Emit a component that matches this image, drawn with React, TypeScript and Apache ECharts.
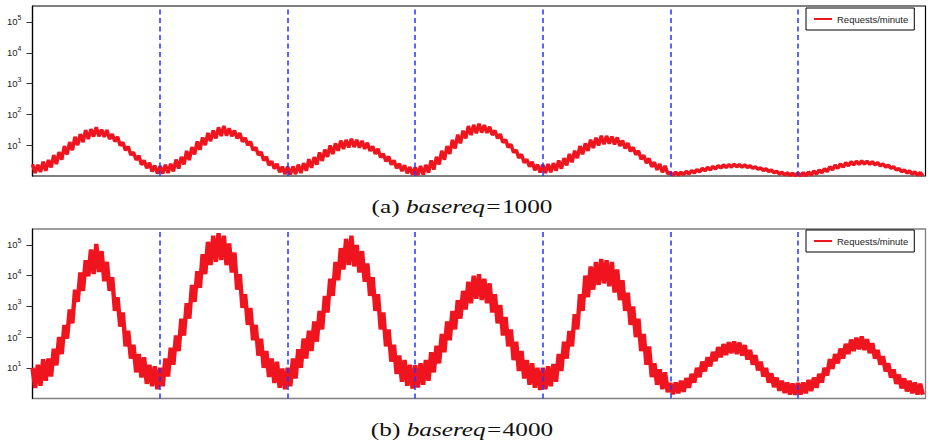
import React, { useEffect, useRef } from "react";
import * as echarts from "echarts";

// x axis: days (0..7); one high and one low reading per hour (low read half an hour later)
const dayMarks = [1, 2, 3, 4, 5, 6];
const tickValues = [10, 100, 1000, 10000, 100000];
const seriesName = "Requests/minute";

// (a) basereq=1000
const reqAHigh = [
  2.4, 2.3, 2.9, 3.3, 4.8, 6.0, 9.3, 12.6, 18.6, 23, 31, 33, 38, 32, 31, 23, 18.6, 12.3, 9.1, 5.9, 4.6, 3.2, 2.7, 2.2,
  2.1, 2.3, 2.5, 3.4, 4.2, 6.5, 8.7, 13.2, 17.8, 25, 30, 38, 42, 35, 30, 25, 17.4, 13.2, 8.5, 6.0, 4.2, 3.0, 2.5, 2.0,
  2.0, 2.04, 2.34, 2.6, 3.5, 4.1, 5.8, 7.2, 9.8, 11.5, 14.1, 14.8, 16.2, 14.8, 13.8, 12, 9.1, 7.6, 5.2, 4.3, 3.2, 2.5, 2.24, 1.95,
  1.9, 2.1, 2.3, 3.2, 4.2, 6.6, 9.3, 14.8, 21.9, 29.5, 41.7, 45.7, 50, 44.7, 39.8, 30, 22.9, 15.1, 10.7, 6.9, 5.0, 3.5, 2.9, 2.34,
  2.3, 2.45, 2.6, 3.2, 3.8, 5.2, 6.6, 9.3, 11.5, 15.1, 17.4, 20.4, 20, 19, 17.8, 14.1, 11.7, 8.5, 6.6, 4.7, 3.7, 2.8, 2.45, 2.14,
  1.29, 1.32, 1.32, 1.41, 1.51, 1.62, 1.78, 1.9, 2.04, 2.19, 2.29, 2.34, 2.4, 2.34, 2.29, 2.14, 2.0, 1.82, 1.7, 1.55, 1.41, 1.32, 1.26, 1.23,
  1.26, 1.29, 1.35, 1.45, 1.58, 1.74, 2.0, 2.24, 2.45, 2.7, 2.9, 3.0, 3.1, 3.0, 2.9, 2.7, 2.45, 2.24, 2.0, 1.74, 1.58, 1.45, 1.35, 1.29,
];
const reqALow = [
  1.26, 1.35, 1.48, 1.9, 2.45, 3.4, 5.0, 6.9, 10, 12.6, 15.8, 19, 19.5, 18.6, 15.8, 13.2, 9.8, 6.8, 4.8, 3.3, 2.3, 1.78, 1.41, 1.2,
  1.2, 1.26, 1.41, 1.74, 2.4, 3.3, 5.0, 7.1, 10, 13.5, 16.6, 20, 20.4, 19.5, 16.6, 12.9, 10, 6.9, 4.8, 3.2, 2.24, 1.74, 1.32, 1.15,
  1.12, 1.15, 1.26, 1.48, 1.86, 2.34, 3.1, 4.2, 5.2, 6.6, 7.6, 8.5, 8.7, 8.3, 7.6, 6.5, 5.2, 4.0, 3.0, 2.34, 1.78, 1.45, 1.23, 1.1,
  1.07, 1.12, 1.29, 1.62, 2.4, 3.4, 5.2, 7.9, 11.5, 16.6, 21.4, 24.5, 25.7, 25.1, 21.4, 16.6, 12.3, 8.5, 5.8, 3.9, 2.7, 2.0, 1.55, 1.32,
  1.26, 1.32, 1.48, 1.74, 2.2, 2.8, 3.8, 5.1, 6.5, 8.1, 9.8, 10.7, 11.2, 10.7, 9.5, 7.9, 6.3, 4.9, 3.5, 2.6, 2.0, 1.58, 1.32, 1.2,
  1.07, 1.07, 1.12, 1.17, 1.26, 1.35, 1.48, 1.58, 1.7, 1.82, 1.9, 1.95, 2.0, 1.95, 1.9, 1.78, 1.66, 1.51, 1.41, 1.29, 1.17, 1.1, 1.05, 1.02,
  1.0, 1.02, 1.07, 1.15, 1.26, 1.38, 1.58, 1.78, 1.95, 2.14, 2.29, 2.4, 2.45, 2.4, 2.29, 2.14, 1.95, 1.78, 1.58, 1.38, 1.26, 1.15, 1.07, 1.02,
];

// (b) basereq=4000
const reqBHigh = [
  10, 12.6, 19, 20, 42, 100, 250, 790, 3500, 12600, 32000, 71000, 107000, 63000, 28000, 8900, 2000, 630, 160, 56, 28, 22, 12.6, 11.2,
  10, 20, 45, 112, 400, 1260, 5000, 14000, 50000, 126000, 200000, 240000, 200000, 112000, 56000, 11200, 2500, 890, 250, 89, 35, 20, 15.8, 9.5,
  10, 20, 40, 89, 160, 320, 710, 2200, 7900, 28000, 79000, 158000, 200000, 100000, 63000, 25000, 8900, 2500, 630, 178, 56, 25, 17.8, 12.6,
  12, 14, 17.8, 32, 52, 126, 320, 710, 1600, 3200, 6300, 10000, 11200, 7900, 5600, 2500, 1120, 450, 178, 71, 35, 17.8, 14, 10,
  10, 11.2, 13.2, 28, 71, 158, 560, 2500, 10000, 20000, 28000, 35000, 32000, 28000, 15800, 7100, 2800, 1000, 400, 126, 50, 14, 8.9, 7.1,
  3.2, 3.3, 3.8, 4.6, 6.3, 10, 15.8, 22, 33, 47, 59, 68, 72, 66, 55, 38, 26, 15.8, 10, 6.6, 4.8, 3.8, 3.3, 3.1,
  3.2, 3.3, 4.0, 4.8, 6.3, 10, 19, 28, 42, 60, 83, 95, 105, 85, 63, 38, 24, 14, 8.9, 6.0, 4.5, 3.8, 3.3, 3.0,
];
const reqBLow = [
  2.2, 2.6, 3.8, 5.2, 12, 28, 89, 280, 1400, 3200, 9500, 11200, 13200, 6600, 3200, 710, 220, 50, 20, 7.1, 4.8, 3.0, 2.5, 2.0,
  2.5, 5.2, 12.6, 35, 112, 400, 1400, 4000, 11200, 22000, 28000, 32000, 22000, 12600, 3500, 890, 250, 79, 25, 10, 5.0, 3.2, 2.24, 2.0,
  2.5, 4.5, 10, 20, 35, 71, 178, 630, 2200, 7100, 15800, 22000, 20000, 12600, 6300, 2200, 710, 178, 50, 15.8, 6.3, 3.5, 2.6, 2.1,
  2.3, 2.8, 3.8, 7.1, 14, 32, 79, 178, 400, 790, 1260, 1780, 1600, 1260, 630, 280, 112, 50, 17.8, 7.9, 4.5, 2.8, 2.24, 1.9,
  2.0, 2.5, 3.5, 7.9, 20, 50, 178, 710, 2000, 3500, 5000, 5600, 4500, 2800, 1600, 710, 250, 100, 35, 12.6, 5.0, 2.8, 2.0, 1.6,
  1.38, 1.48, 1.66, 2.24, 3.3, 5.0, 7.6, 11.2, 16.6, 22, 26, 30, 28, 25, 18.6, 12.6, 8.3, 5.2, 3.3, 2.34, 1.78, 1.51, 1.35, 1.32,
  1.35, 1.48, 1.74, 2.24, 3.3, 5.6, 9.3, 14, 20, 28, 35, 40, 38, 30, 20, 12.6, 7.6, 4.8, 3.0, 2.14, 1.7, 1.48, 1.35, 1.32,
];

const captionA = ["(a) ", "basereq", "=", "1000"];
const captionB = ["(b) ", "basereq", "=", "4000"];

const RED = "#f0141e";
const BLUE = "#2233ff";
const SERIF = "'Liberation Serif', 'Times New Roman', serif";
const SANS = "'Liberation Sans', Arial, sans-serif";

function toPoints(high: number[], low: number[]) {
  const pts: [number, number][] = [];
  for (let i = 0; i < high.length; i++) {
    pts.push([i / 24, high[i]]);
    pts.push([i / 24 + 1 / 48, low[i]]);
  }
  return pts;
}

function yAxisFor(gridIndex: number) {
  return {
    type: "log",
    logBase: 10,
    gridIndex,
    min: 1,
    max: 330000,
    axisLine: { show: true, lineStyle: { color: "#000", width: 1.2 } },
    axisTick: {
      show: true,
      inside: false,
      length: 6,
      customValues: tickValues,
      lineStyle: { color: "#333", width: 1 },
    },
    axisLabel: {
      customValues: tickValues,
      margin: 11,
      formatter: (v: number) => `{a|10}{b|${Math.round(Math.log10(v))}}`,
      rich: {
        a: { fontSize: 9.5, fontFamily: SANS, color: "#222", lineHeight: 16 },
        b: { fontSize: 7, fontFamily: SANS, color: "#222", lineHeight: 7, verticalAlign: "top" },
      },
    },
    splitLine: { show: false },
  };
}

function xAxisFor(gridIndex: number) {
  return {
    type: "value",
    gridIndex,
    min: 0,
    max: 7,
    axisLine: { show: false },
    axisTick: { show: false },
    axisLabel: { show: false },
    splitLine: { show: false },
  };
}

function seriesFor(idx: number, data: [number, number][], width: number) {
  return {
    type: "line",
    name: seriesName,
    xAxisIndex: idx,
    yAxisIndex: idx,
    data,
    symbol: "none",
    showSymbol: false,
    lineStyle: { color: RED, width, join: "bevel" },
    itemStyle: { color: RED },
    markLine: {
      silent: true,
      symbol: ["none", "none"],
      label: { show: false },
      lineStyle: { color: BLUE, type: [5, 3.5], width: 1.5 },
      data: dayMarks.map((d) => ({ xAxis: d })),
    },
  };
}

function legendFor(top: number) {
  return {
    left: 806,
    top,
    orient: "horizontal",
    data: [{ name: seriesName, icon: "rect" }],
    itemWidth: 18,
    itemHeight: 2,
    itemGap: 8,
    padding: [6, 6, 6, 8],
    borderColor: "#000",
    borderWidth: 1,
    backgroundColor: "#fff",
    selectedMode: false,
    textStyle: { fontSize: 9.5, fontFamily: SANS, color: "#222" },
  };
}

function captionFor(parts: string[], y: number) {
  return {
    type: "text",
    x: 462,
    y,
    scaleX: 1.33,
    style: {
      text: `{n|${parts[0]}}{i|${parts[1]}}{e|${parts[2]}}{n|${parts[3]}}`,
      align: "center",
      verticalAlign: "middle",
      fill: "#111",
      font: `19px ${SERIF}`,
      rich: {
        n: { font: `19px ${SERIF}`, fill: "#111" },
        i: { font: `italic 19px ${SERIF}`, fill: "#111" },
        e: { font: `19px ${SERIF}`, fill: "#111", padding: [0, 1] },
      },
    },
  };
}

export default function App() {
  const ref = useRef<HTMLDivElement>(null);
  useEffect(() => {
    if (!ref.current) return;
    const chart = echarts.init(ref.current, null, { renderer: "svg" });
    chart.setOption({
      animation: false,
      backgroundColor: "#fff",
      grid: [
        { left: 32.5, right: 5.5, top: 6, height: 170, show: true, borderColor: "#000", borderWidth: 1.2, backgroundColor: "transparent" },
        { left: 32.5, right: 5.5, top: 229, height: 169.5, show: true, borderColor: "#7f7f7f", borderWidth: 1.3, backgroundColor: "transparent" },
      ],
      xAxis: [xAxisFor(0), xAxisFor(1)],
      yAxis: [yAxisFor(0), yAxisFor(1)],
      legend: [legendFor(8), legendFor(230)],
      series: [
        seriesFor(0, toPoints(reqAHigh, reqALow), 3.6),
        seriesFor(1, toPoints(reqBHigh, reqBLow), 4.4),
      ],
      graphic: [captionFor(captionA, 207), captionFor(captionB, 430)],
    });
    return () => chart.dispose();
  }, []);
  return (
    <div
      ref={ref}
      style={{ position: "absolute", left: 0, top: 0, width: 931, height: 446, background: "#fff" }}
    />
  );
}
